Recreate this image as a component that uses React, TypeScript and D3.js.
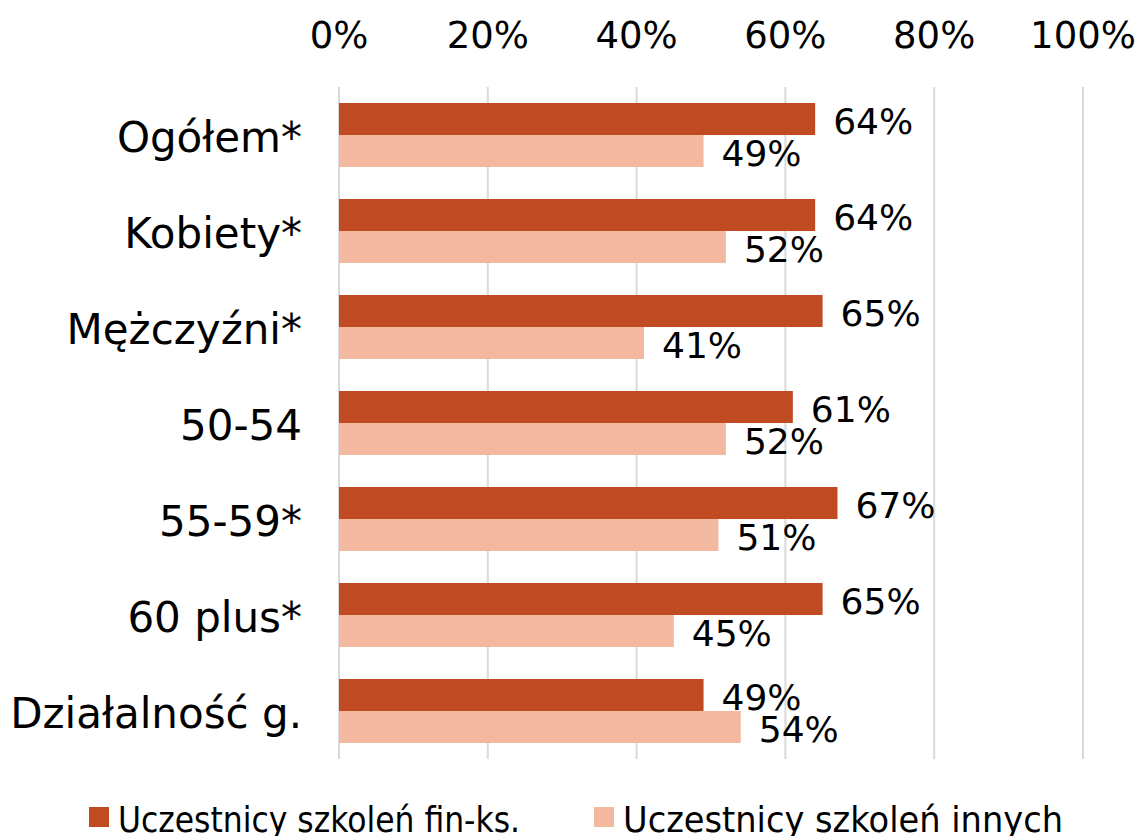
import React from "react";
import * as d3 from "d3";

const categories = ["Ogółem*", "Kobiety*", "Mężczyźni*", "50-54", "55-59*", "60 plus*", "Działalność g."];
const finKs = [64, 64, 65, 61, 67, 65, 49];
const inne = [49, 52, 41, 52, 51, 45, 54];
const ticks = [0, 20, 40, 60, 80, 100];
const seriesNames = ["Uczestnicy szkoleń fin-ks.", "Uczestnicy szkoleń innych"];
const colors = ["#C04A22", "#F2B9A0"];

const W = 1140;
const H = 836;
const FONT = "'DejaVu Sans', sans-serif";

export default function App() {
  const x = d3.scaleLinear().domain([0, 100]).range([339, 1083]);
  const y = d3.scaleBand<string>().domain(categories).range([87, 759]).paddingInner(1 / 3).paddingOuter(1 / 6);
  const sub = d3.scaleBand<number>().domain([0, 1]).range([0, y.bandwidth()]);
  const series = [finKs, inne];
  const legendX = [89, 594];
  const legendLen = [402, 440];

  return (
    <svg width={W} height={H} style={{ position: "absolute", left: 0, top: 0, background: "#fff" }}>
      {ticks.map((t) => (
        <g key={t}>
          <line x1={x(t)} x2={x(t)} y1={87} y2={759} stroke="#d9d9d9" strokeWidth={2} />
          <text x={x(t)} y={48} textAnchor="middle" fontFamily={FONT} fontSize={37} fill="#000">
            {t}%
          </text>
        </g>
      ))}
      {categories.map((c) => (
        <text key={c} x={302} y={(y(c) as number) + y.bandwidth() / 2 + 2} dy="0.36em" textAnchor="end" fontFamily={FONT} fontSize={42} fill="#000">
          {c}
        </text>
      ))}
      {series.map((s, si) =>
        categories.map((c, i) => {
          const y0 = (y(c) as number) + (sub(si) as number);
          return (
            <g key={c + si}>
              <rect x={x(0)} y={y0} width={x(s[i]) - x(0)} height={sub.bandwidth()} fill={colors[si]} />
              <text x={x(s[i]) + 18} y={y0 + sub.bandwidth() / 2 + 2} dy="0.36em" fontFamily={FONT} fontSize={36} fill="#000">
                {s[i]}%
              </text>
            </g>
          );
        })
      )}
      {seriesNames.map((n, si) => {
        const lx = legendX[si];
        return (
          <g key={n}>
            <rect x={lx} y={807} width={20} height={20} fill={colors[si]} />
            <text x={lx + 29} y={832} fontFamily={FONT} fontSize={36} fill="#000" textLength={legendLen[si]} lengthAdjust="spacingAndGlyphs">
              {n}
            </text>
          </g>
        );
      })}
    </svg>
  );
}
